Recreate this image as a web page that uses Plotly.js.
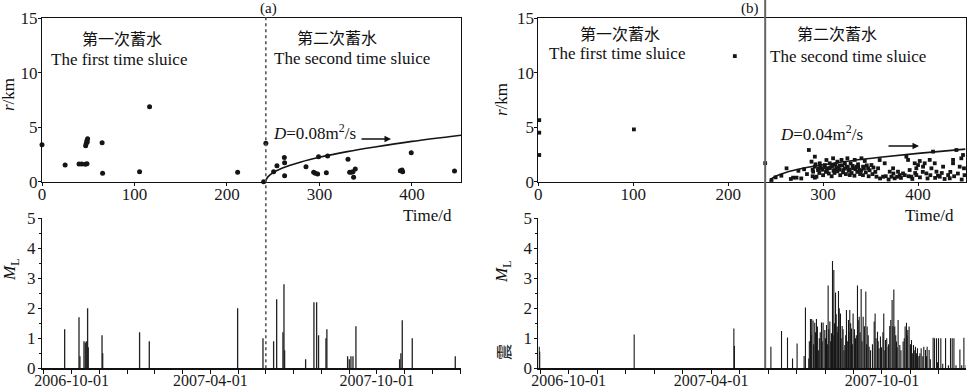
<!DOCTYPE html>
<html><head><meta charset="utf-8">
<script src="https://cdn.plot.ly/plotly-3.0.1.min.js"></script>
<style>html,body{margin:0;padding:0;background:#fff}#c{width:967px;height:391px}</style>
</head><body><div id="c"></div>
<script>
// ---------- DATA ----------
// Panel (a) top: event distance r (km) vs time (days)
const aDays = [0, 25, 40, 43, 46.8, 48.6, 47.2, 47.8, 48.5, 49.3, 48.9, 65, 65.5, 105.5, 116.3, 211.5, 242, 239.6, 250.4, 254, 262, 262.3, 262.3, 285.4, 293.7, 295.5, 298, 299, 307.4, 308.8, 330.8, 332.6, 334.4, 336.2, 338.7, 336.9, 387.4, 389.2, 389.9, 399.2, 446];
const aR    = [3.4, 1.53, 1.62, 1.62, 1.6, 1.65, 3.3, 3.5, 3.75, 3.95, 3.65, 3.58, 0.77, 0.92, 6.88, 0.86, 3.52, 0.0, 0.92, 1.47, 2.23, 1.75, 0.55, 1.38, 0.86, 0.77, 0.7, 2.3, 0.83, 2.36, 2.05, 0.86, 0.86, 0.92, 1.17, 0.4, 1.0, 1.07, 0.92, 2.66, 0.98];
// Diffusion front curve (a)
const aCurveDays = [242, 243, 245, 250, 260, 280, 300, 330, 360, 400, 453];
const aCurveR    = [0, 0.29, 0.51, 0.83, 1.25, 1.81, 2.24, 2.76, 3.19, 3.70, 4.27];
// Panel (a) bottom: magnitude ML vs time (days)
const aMagDays = [24.5, 40, 41, 45.4, 46.8, 47.9, 49.3, 50, 64.9, 65.6, 105.5, 116, 211.5, 238.9, 250.4, 253.7, 260.5, 261.6, 262.3, 285, 294, 296.9, 299, 307, 308, 330.4, 332.2, 334, 336.2, 339.4, 386.6, 388, 389.5, 400.3, 446.8];
const aMag     = [1.3, 1.7, 0.4, 0.9, 0.85, 0.9, 2.0, 0.7, 1.1, 0.5, 1.2, 0.9, 2.0, 1.0, 0.9, 2.3, 1.2, 2.8, 0.6, 0.3, 2.2, 2.2, 1.1, 1.0, 1.3, 0.4, 0.3, 0.4, 0.4, 1.4, 0.3, 0.5, 1.6, 1.0, 0.4];

// Panel (b) top
const bDays = [1, 1, 1, 100.7, 207, 239, 245.7, 250, 256, 261.5, 266, 268.4, 272, 274, 277, 280, 283, 285, 287.8, 289.5, 289, 291.3, 291.3, 291.3, 293, 294.7, 296.5, 298.2, 301.7, 303.5, 305.3, 307, 308.8, 310.5, 312.3, 313, 315, 315.8, 317.6, 319.4, 321.1, 322.9, 324.6, 325.6, 328.1, 329, 331.6, 333.3, 335.1, 336.8, 338.6, 340.4, 342.1, 343.9, 347.4, 350.9, 356.2, 357.9, 359.6, 363.2, 364.9, 370.2, 371.9, 373.7, 375.4, 378.9, 380.7, 384.2, 387.7, 389.5, 391.2, 393, 396.5, 398.2, 398.2, 400, 401.8, 405.3, 407, 408.8, 412.3, 414.1, 415.8, 417.6, 419.4, 422.9, 426.4, 431.7, 433.4, 436.9, 436.9, 440.4, 443.9, 445.6, 447.4, 448.4,
  296, 300, 303, 306, 309, 312, 315, 318, 321, 324, 327, 330, 333, 336, 339, 342, 345, 348, 352, 355, 360, 366, 369, 374, 378, 382, 386, 390, 394, 397, 402, 405, 410, 413, 418, 421, 425, 428, 434, 438, 442, 446, 449,
  299, 302, 304, 307, 310, 311, 314, 317, 320, 323, 326, 328, 331, 334, 337, 340, 343, 346, 349, 353, 289, 292, 295, 297];
const bR = [5.65, 4.5, 2.45, 4.8, 11.53, 1.7, 0.16, 0.4, 0.55, 1.23, 0.25, 0.37, 0.37, 1.0, 0.3, 1.14, 0.7, 2.91, 1.84, 0.92, 0.5, 2.3, 1.38, 0.37, 0.46, 1.07, 1.69, 1.23, 1.53, 1.99, 1.23, 1.69, 1.38, 2.15, 1.07, 1.6, 1.84, 1.23, 1.47, 2.0, 1.07, 1.69, 1.38, 2.15, 0.61, 1.69, 1.23, 2.0, 1.38, 1.6, 1.07, 2.15, 1.38, 1.9, 1.23, 1.53, 0.46, 1.23, 1.99, 0.46, 1.69, 0.92, 0.46, 1.23, 0.31, 0.92, 0.61, 0.76, 2.3, 2.0, 1.07, 0.46, 1.69, 1.23, 0.61, 1.53, 1.9, 1.38, 1.69, 0.76, 2.0, 1.23, 2.76, 1.69, 0.92, 0.46, 1.38, 0.61, 0.31, 2.0, 1.69, 2.91, 1.38, 2.15, 2.45, 1.23,
  0.8, 0.6, 0.9, 0.75, 0.5, 0.8, 0.95, 0.6, 0.85, 0.7, 1.0, 0.8, 0.55, 0.9, 0.7, 0.6, 0.85, 0.5, 0.7, 0.9, 0.3, 0.5, 0.2, 0.75, 0.45, 0.35, 0.6, 0.5, 0.25, 0.8, 0.4, 0.9, 0.3, 0.6, 0.35, 0.55, 0.8, 0.25, 0.9, 0.5, 0.75, 0.2, 0.6,
  1.1, 1.3, 1.05, 1.25, 1.45, 1.0, 1.3, 1.1, 1.5, 1.2, 1.35, 1.1, 1.45, 1.15, 1.3, 1.0, 1.2, 1.5, 1.05, 1.3, 1.1, 1.6, 1.2, 1.45];
const bCurveDays = [244, 245, 247, 250, 260, 280, 300, 330, 360, 400, 450];
const bCurveR    = [0, 0.21, 0.36, 0.51, 0.83, 1.25, 1.56, 1.93, 2.24, 2.60, 2.99];
// Panel (b) bottom
const bMagDays = [1, 1.5, 101, 206, 206.6, 245, 256.2, 262.5, 267.8, 272.6, 280, 281.4, 284.9, 286.7, 288, 289.4, 291.2, 293, 294, 298.3, 300, 301.8, 303.6, 305.3, 307.1, 308.8, 309.9, 311.3, 313.1, 314.8, 316.2, 318.3, 320.1, 322.9, 324.6, 326.7, 328.1, 329.9, 331.6, 334.1, 336.2, 338, 340.1, 342.2, 345, 346.4, 348.5, 353.8, 354.8, 357.3, 359, 360.4, 363.9, 365.7, 368.5, 370.2, 371.3, 372.7, 374.5, 375.5, 377.3, 379, 380.8, 384.3, 386.4, 387.8, 389.2, 390.6, 393.1, 395.2, 397.3, 399.4, 401.2, 403.3, 406.1, 407.9, 409.6, 411.7, 415.9, 417.4, 419.5, 421.6, 424, 429, 434.2, 436, 437.8, 444.1, 448.3, 450.4,
  285.5, 287.5, 290, 292, 295, 296, 297, 299, 302.5, 304.5, 306, 308, 310.5, 312, 313.8, 315.5, 317, 319, 321, 322, 323.8, 325.5, 327.2, 329, 330.8, 333, 335, 337, 339, 341, 343.5, 345.8, 347.5, 350, 352, 355.8, 358, 361.5, 363, 365, 367, 369, 373.5, 376.5, 378, 382, 385.5, 388.5, 392, 394, 396, 398.5, 400, 402, 405, 409, 413, 420.5, 426, 432, 440, 446];
const bMag = [0.72, 0.55, 1.13, 1.33, 0.74, 0.72, 1.24, 1.03, 0.33, 0.83, 0.41, 2.03, 0.33, 1.64, 1.64, 1.59, 1.52, 1.64, 1.39, 1.53, 1.53, 1.28, 1.44, 2.76, 1.56, 1.17, 3.58, 3.28, 2.53, 1.39, 2.58, 1.83, 1.41, 0.78, 1.94, 1.61, 1.94, 1.33, 1.83, 1.0, 2.76, 1.72, 2.64, 1.72, 2.56, 1.39, 0.72, 1.56, 1.83, 1.22, 0.67, 1.06, 1.83, 0.94, 0.72, 1.41, 1.61, 2.28, 2.63, 1.39, 0.89, 1.61, 0.78, 0.89, 1.39, 1.52, 1.28, 1.39, 0.94, 0.78, 0.72, 0.67, 0.41, 0.67, 0.72, 0.61, 0.72, 0.61, 1.02, 1.0, 1.0, 1.0, 1.0, 1.0, 1.0, 1.0, 1.0, 0.63, 1.02, 0.11,
  0.9, 1.1, 0.8, 1.2, 0.6, 1.0, 1.2, 0.9, 1.0, 0.8, 1.3, 0.9, 1.1, 1.5, 1.8, 1.2, 2.0, 1.0, 1.3, 0.6, 1.1, 0.9, 1.2, 1.5, 0.8, 1.3, 1.1, 1.6, 1.2, 0.9, 1.4, 0.8, 1.1, 0.6, 0.8, 1.0, 0.9, 0.7, 1.2, 0.6, 1.0, 0.8, 1.4, 1.1, 0.7, 0.6, 1.0, 1.1, 0.8, 0.5, 0.6, 0.5, 0.4, 0.5, 0.4, 0.4, 0.3, 0.2, 0.15, 0.1, 0.1, 0.1];

// Reservoir second-sluice start (days)
const sluiceDayA = 242;
const sluiceDayB = 239;

// Tick labels
const topTickVals = [0, 100, 200, 300, 400];
const dateTickVals = [32, 182, 362];
const dateTickText = ['2006-10-01', '2007-04-01', '2007-10-01'];

// ---------- BUILD ----------
const W = 967, H = 391;
const FONT = '"Liberation Serif", "Times New Roman", serif';
const CJK = '"Noto Sans CJK SC", sans-serif';
function stems(xs, ys) {
  const X = [], Y = [];
  xs.forEach((d, i) => { X.push(d, d, null); Y.push(0, ys[i], null); });
  return {X, Y};
}
const sa = stems(aMagDays, aMag), sb = stems(bMagDays, bMag);
const dark = '#151515';

const traces = [
  {x: aDays, y: aR, xaxis: 'x', yaxis: 'y', mode: 'markers', type: 'scatter', cliponaxis: false,
   marker: {color: dark, size: 5, symbol: 'circle'}, hoverinfo: 'skip'},
  {x: aCurveDays, y: aCurveR, xaxis: 'x', yaxis: 'y', mode: 'lines', type: 'scatter',
   line: {color: dark, width: 1.6, shape: 'spline'}, hoverinfo: 'skip'},
  {x: sa.X, y: sa.Y, xaxis: 'x2', yaxis: 'y2', mode: 'lines', type: 'scatter',
   line: {color: '#222', width: 1.3}, hoverinfo: 'skip'},
  {x: bDays, y: bR, xaxis: 'x3', yaxis: 'y3', mode: 'markers', type: 'scatter', cliponaxis: false,
   marker: {color: dark, size: 3.8, symbol: 'square'}, hoverinfo: 'skip'},
  {x: bCurveDays, y: bCurveR, xaxis: 'x3', yaxis: 'y3', mode: 'lines', type: 'scatter',
   line: {color: dark, width: 1.6, shape: 'spline'}, hoverinfo: 'skip'},
  {x: sb.X, y: sb.Y, xaxis: 'x4', yaxis: 'y4', mode: 'lines', type: 'scatter',
   line: {color: '#181818', width: 1.1}, hoverinfo: 'skip'}
];

const px = v => v / W, py = v => 1 - v / H;
const tickFont = {family: FONT, size: 17, color: '#1a1a1a'};
const dateFont = {family: FONT, size: 16, color: '#1a1a1a'};
const leftX = [px(42), px(461)], rightX = [px(538.3), px(965.5)];
const topY = [py(181.7), py(18.3)], botY = [py(368.3), py(218.3)];

function topX(domain, range, anchor) {
  return {domain, range, anchor, tickvals: topTickVals, showline: true, mirror: true, linecolor: '#111', linewidth: 1,
    ticks: 'outside', ticklen: 3, tickcolor: '#111', ticklabelstandoff: -6, showgrid: false, zeroline: false, tickfont: tickFont, fixedrange: true};
}
function topYax(domain, anchor) {
  return {domain, range: [0, 15], anchor, dtick: 5, showline: true, mirror: true, linecolor: '#111', linewidth: 1,
    ticks: 'outside', ticklen: 3, tickcolor: '#111', ticklabelstandoff: -3, showgrid: false, zeroline: false, tickfont: tickFont, fixedrange: true};
}
function botX(domain, range, anchor) {
  return {domain, range, anchor, tickvals: dateTickVals, ticktext: dateTickText, showline: true, linecolor: '#111', linewidth: 1.5,
    ticks: 'outside', ticklen: 4, tickcolor: '#111', ticklabelstandoff: -7, showgrid: false, zeroline: false, tickfont: dateFont,
    minor: {tick0: 2, dtick: 30, ticks: 'outside', ticklen: 4, tickcolor: '#111', showgrid: false}, fixedrange: true};
}
function botYax(domain, anchor) {
  return {domain, range: [0, 5], anchor, dtick: 1, showline: true, linecolor: '#111', linewidth: 1,
    ticks: 'outside', ticklen: 3, tickcolor: '#111', ticklabelstandoff: -1, showgrid: false, zeroline: false, tickfont: tickFont,
    minor: {dtick: 0.5, ticks: 'outside', ticklen: 2, tickcolor: '#111', showgrid: false}, fixedrange: true};
}

const ann = (x, y, text, opt = {}) => Object.assign({xref: 'paper', yref: 'paper', x: px(x), y: py(y), text,
  showarrow: false, xanchor: 'center', yanchor: 'middle', font: {family: FONT, size: 17, color: '#111'}}, opt);
const cjk = {family: CJK, size: 16, color: '#111'};

const annotations = [
  ann(268, 8, '(a)', {font: {family: FONT, size: 15, color: '#111'}}),
  ann(750, 8, '(b)', {font: {family: FONT, size: 15, color: '#111'}}),
  ann(9, 95, '<i>r</i>/km', {textangle: -90}),
  ann(502, 100, '<i>r</i>/km', {textangle: -90}),
  ann(11, 270, '<i>M</i><sub>L</sub>', {textangle: -90}),
  ann(503, 272, '<i>M</i><sub>L</sub>', {textangle: -90}),
  ann(503, 352, '震', {textangle: -90, font: cjk}),
  ann(454, 215, 'Time/d', {xanchor: 'right'}),
  ann(956, 215, 'Time/d', {xanchor: 'right'}),
  ann(122, 38, '第一次蓄水', {font: cjk}),
  ann(118.5, 59, 'The first time sluice'),
  ann(337, 37, '第二次蓄水', {font: cjk}),
  ann(352, 58, 'The second time sluice'),
  ann(314, 132, '<i>D</i>=0.08m<sup>2</sup>/s'),
  ann(620, 33, '第一次蓄水', {font: cjk}),
  ann(617, 54, 'The first time sluice'),
  ann(837, 33, '第二次蓄水', {font: cjk}),
  ann(848, 56, 'The second time sluice'),
  ann(821, 133, '<i>D</i>=0.04m<sup>2</sup>/s'),
  {xref: 'paper', yref: 'paper', x: px(391), y: py(139), ax: -31, ay: 0, text: '', showarrow: true,
   arrowhead: 2, arrowsize: 1, arrowwidth: 1.3, arrowcolor: '#111'},
  {xref: 'paper', yref: 'paper', x: px(919), y: py(146), ax: -32, ay: 0, text: '', showarrow: true,
   arrowhead: 2, arrowsize: 1, arrowwidth: 1.3, arrowcolor: '#111'}
];

const shapes = [
  {type: 'line', xref: 'x', yref: 'paper', x0: sluiceDayA, x1: sluiceDayA, y0: py(368.3), y1: py(17),
   line: {color: '#555', width: 1.6, dash: 'dot'}},
  {type: 'line', xref: 'x3', yref: 'paper', x0: sluiceDayB, x1: sluiceDayB, y0: py(368.3), y1: 1,
   line: {color: '#666', width: 2}}
];

const layout = {
  width: W, height: H, margin: {l: 0, r: 0, t: 0, b: 0}, paper_bgcolor: '#fff', plot_bgcolor: 'rgba(0,0,0,0)',
  showlegend: false, font: {family: FONT, color: '#111'},
  xaxis: topX(leftX, [0, 453], 'y'), yaxis: topYax(topY, 'x'),
  xaxis2: botX(leftX, [0, 453], 'y2'), yaxis2: botYax(botY, 'x2'),
  xaxis3: topX(rightX, [0, 450], 'y3'), yaxis3: topYax(topY, 'x3'),
  xaxis4: botX(rightX, [0, 450], 'y4'), yaxis4: botYax(botY, 'x4'),
  annotations, shapes
};
Plotly.newPlot('c', traces, layout, {staticPlot: true, displayModeBar: false});
</script></body></html>
